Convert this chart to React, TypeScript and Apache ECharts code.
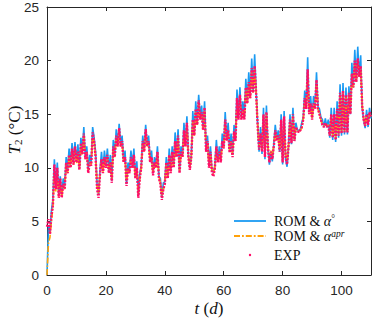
import React, { useEffect, useRef } from "react";
import * as echarts from "echarts";

// time grid (days), half-day sampling
const TIME_STEP = 0.5;
const N_POINTS = 221;
const timeDays: number[] = Array.from({ length: N_POINTS }, (_, i) => i * TIME_STEP);

const xTicks = [0, 20, 40, 60, 80, 100];
const yTicks = [0, 5, 10, 15, 20, 25];

// EXP measurements T2 (°C)
const expValues = [
  4.5, 5.2, 3.8, 5.5, 6.5, 10.3, 8.0, 10.0, 7.2, 9.0,
  7.2, 8.5, 8.0, 10.5, 9.5, 11.2, 10.0, 11.8, 10.3, 12.0,
  10.5, 11.5, 9.8, 12.3, 11.3, 13.2, 10.8, 11.5, 9.5, 10.5,
  10.2, 13.3, 12.5, 11.0, 8.0, 7.2, 9.5, 10.8, 9.5, 11.0,
  10.0, 11.2, 9.5, 10.5, 8.6, 12.0, 11.0, 13.0, 12.0, 13.7,
  12.0, 12.5, 10.5, 11.0, 8.3, 10.0, 9.5, 11.0, 10.0, 11.2,
  9.0, 10.0, 7.2, 9.0, 10.0, 12.5, 11.5, 13.6, 12.0, 12.5,
  10.5, 11.0, 9.3, 10.5, 10.0, 11.5, 9.0, 8.5, 7.0, 8.0,
  8.5, 10.5, 9.0, 11.2, 9.5, 11.5, 10.0, 12.5, 11.0, 13.0,
  9.5, 11.5, 11.0, 13.5, 12.0, 14.2, 11.0, 9.8, 11.0, 14.5,
  13.0, 15.5, 14.0, 16.3, 14.5, 15.2, 13.5, 15.6, 11.5, 12.5,
  10.0, 11.5, 9.5, 9.2, 10.0, 12.0, 10.5, 11.5, 10.5, 12.5,
  11.8, 14.5, 12.5, 13.5, 11.4, 12.5, 11.0, 13.4, 12.5, 16.5,
  14.5, 16.8, 14.5, 15.5, 14.5, 17.5, 16.0, 18.0, 16.5, 19.3,
  17.0, 19.5, 17.0, 14.0, 11.7, 13.2, 11.5, 15.0, 11.0, 15.2,
  12.0, 10.5, 11.5, 10.8, 12.0, 13.5, 12.5, 13.0, 11.5, 14.5,
  10.5, 14.8, 11.0, 10.3, 12.0, 14.5, 12.3, 15.0, 12.5, 13.8,
  13.5, 13.3, 13.5, 13.8, 14.5, 16.5, 15.5, 19.2, 15.0, 16.0,
  14.5, 16.0, 15.5, 18.2, 15.5, 15.0, 14.5, 14.0, 13.8, 14.2,
  13.8, 14.0, 13.0, 15.0, 12.8, 15.0, 12.6, 15.5, 13.0, 17.0,
  13.2, 17.2, 13.3, 16.8, 13.3, 17.0, 15.0, 18.8, 17.5, 20.0,
  18.0, 20.2, 18.5, 19.5, 15.8, 14.5, 13.9, 15.0, 14.0, 15.2,
  14.8,
];

// ROM & alpha° (blue)
const romValues = [
  0, 4.5, 4.0, 6.0, 7.0, 10.8, 8.2, 10.5, 7.5, 9.2,
  7.5, 9.0, 8.3, 11.0, 9.8, 11.8, 10.3, 12.3, 10.5, 12.4,
  10.6, 12.2, 10.0, 12.8, 11.5, 13.8, 11.0, 12.0, 9.8, 11.2,
  10.5, 13.8, 12.8, 11.5, 8.5, 7.5, 9.8, 11.5, 9.8, 11.6,
  10.2, 11.8, 9.7, 11.2, 8.8, 12.6, 11.2, 13.6, 12.2, 14.1,
  12.2, 13.0, 10.7, 11.6, 8.5, 10.5, 9.7, 11.6, 10.2, 11.8,
  9.2, 10.6, 7.4, 9.5, 10.2, 13.0, 11.7, 14.0, 12.2, 13.0,
  10.7, 11.6, 9.5, 11.0, 10.2, 12.0, 9.2, 9.0, 7.2, 8.6,
  8.7, 11.0, 9.2, 11.8, 9.7, 12.0, 10.2, 13.3, 11.2, 13.6,
  9.7, 12.0, 11.2, 14.2, 12.2, 14.8, 11.2, 10.0, 11.2, 15.3,
  13.2, 16.2, 14.2, 16.8, 14.7, 15.8, 13.7, 16.2, 11.7, 13.0,
  10.2, 12.0, 9.7, 9.6, 10.2, 12.6, 10.7, 12.0, 10.7, 13.2,
  12.0, 15.2, 12.7, 14.2, 11.6, 13.2, 11.2, 14.0, 12.7, 17.3,
  14.7, 17.5, 14.7, 16.2, 14.7, 18.3, 16.2, 18.9, 16.7, 20.2,
  17.2, 20.6, 17.2, 14.2, 11.5, 13.8, 11.3, 15.6, 10.8, 15.8,
  11.8, 10.3, 11.5, 10.6, 12.2, 14.0, 12.7, 13.5, 11.5, 15.0,
  10.3, 15.3, 10.8, 10.1, 12.0, 15.0, 12.2, 15.6, 12.5, 14.2,
  13.5, 13.5, 13.6, 14.2, 14.7, 17.2, 15.7, 20.3, 15.2, 16.7,
  14.7, 16.7, 15.7, 18.9, 15.7, 15.5, 14.7, 14.5, 13.8, 14.6,
  13.8, 14.5, 12.8, 15.6, 12.6, 15.6, 12.4, 16.2, 12.8, 17.8,
  13.0, 17.9, 13.1, 17.5, 13.1, 17.6, 15.0, 19.8, 17.5, 21.0,
  18.0, 21.3, 18.5, 20.5, 15.6, 14.5, 13.7, 15.4, 13.8, 15.6,
  14.6,
];

// ROM & alpha^apr (orange)
const romAprValues = [
  0, 3.0, 3.5, 5.0, 6.3, 9.5, 7.8, 9.6, 7.3, 8.7,
  7.3, 8.4, 8.0, 10.3, 9.5, 11.0, 10.0, 11.5, 10.3, 11.7,
  10.4, 11.3, 9.9, 12.0, 11.2, 13.0, 10.9, 11.4, 9.7, 10.5,
  10.3, 13.0, 12.4, 11.0, 8.3, 7.6, 9.5, 10.7, 9.6, 10.8,
  10.1, 11.0, 9.6, 10.4, 8.9, 11.8, 11.0, 12.8, 12.0, 13.4,
  12.0, 12.3, 10.6, 10.9, 8.6, 9.9, 9.6, 10.8, 10.0, 11.0,
  9.1, 9.9, 7.5, 9.0, 10.0, 12.3, 11.5, 13.3, 12.0, 12.3,
  10.6, 10.9, 9.5, 10.4, 10.0, 11.3, 9.2, 8.6, 7.4, 8.0,
  8.6, 10.3, 9.1, 11.0, 9.6, 11.3, 10.1, 12.3, 11.0, 12.8,
  9.7, 11.3, 11.0, 13.3, 12.0, 14.0, 11.2, 10.0, 11.0, 14.3,
  13.0, 15.2, 14.0, 16.0, 14.5, 15.0, 13.6, 15.3, 11.8, 12.4,
  10.2, 11.3, 9.7, 9.4, 10.1, 11.8, 10.6, 11.3, 10.6, 12.3,
  11.8, 14.2, 12.6, 13.3, 11.6, 12.4, 11.2, 13.2, 12.6, 16.2,
  14.6, 16.5, 14.6, 15.3, 14.6, 17.2, 16.0, 17.8, 16.5, 19.0,
  17.0, 19.2, 17.0, 14.2, 11.9, 13.1, 11.7, 14.8, 11.2, 15.0,
  12.0, 10.8, 11.6, 11.0, 12.1, 13.3, 12.6, 12.9, 11.7, 14.3,
  10.8, 14.6, 11.2, 10.6, 12.1, 14.3, 12.4, 14.8, 12.6, 13.7,
  13.5, 13.3, 13.5, 13.7, 14.5, 16.2, 15.5, 18.8, 15.1, 15.9,
  14.6, 15.9, 15.5, 18.0, 15.5, 15.0, 14.5, 14.0, 13.9, 14.1,
  13.9, 14.0, 13.1, 14.8, 12.9, 14.8, 12.7, 15.3, 13.1, 16.8,
  13.3, 17.0, 13.4, 16.6, 13.4, 16.8, 15.1, 18.5, 17.5, 19.7,
  18.0, 20.0, 18.5, 19.3, 15.9, 14.6, 14.0, 14.9, 14.1, 15.0,
  14.8,
];

const BLUE = "#1a9af2";
const ORANGE = "#ffa10a";
const PINK = "#ff0f68";
const AXIS = "#262626";
const SANS = "'Liberation Sans', Arial, sans-serif";
const SERIF = "'Liberation Serif', 'Times New Roman', serif";

const ICON_SOLID = "path://M0,0M32,14M0,6.1L32,6.1L32,7.9L0,7.9z";
const ICON_DASHDOT =
  "path://M0,0M32,14M0,6L6,6L6,8L0,8zM8,6L9.8,6L9.8,8L8,8zM11.8,6L17.8,6L17.8,8L11.8,8zM19.8,6L21.6,6L21.6,8L19.8,8zM23.6,6L29.6,6L29.6,8L23.6,8zM31.6,6L32,6L32,8L31.6,8z";
const ICON_DOT = "path://M0,0M32,14M14.8,7a1.2,1.2 0 1,0 2.4,0a1.2,1.2 0 1,0 -2.4,0z";

const pairs = (vals: number[]) => timeDays.map((t, i) => [t, vals[i]]);

export default function App() {
  const ref = useRef<HTMLDivElement>(null);
  useEffect(() => {
    if (!ref.current) return;
    const chart = echarts.init(ref.current, null, { renderer: "svg" });
    const legendRich = {
      r: { fontFamily: SERIF, fontSize: 14, color: "#111", lineHeight: 14 },
      i: { fontFamily: SERIF, fontSize: 14, fontStyle: "italic", color: "#111", lineHeight: 14 },
      sup: { fontFamily: SERIF, fontSize: 9.5, color: "#111", verticalAlign: "top", lineHeight: 9 },
      supi: { fontFamily: SERIF, fontSize: 9.5, fontStyle: "italic", color: "#111", verticalAlign: "top", lineHeight: 9 },
    };
    const legendFor = (name: string, icon: string, color: string, top: number) => ({
      orient: "vertical",
      left: 229,
      top,
      itemWidth: 32,
      itemHeight: 14,
      selectedMode: false,
      textStyle: { fontFamily: SERIF, fontSize: 14, color: "#111", padding: [0, 0, 0, 3], rich: legendRich },
      formatter: (n: string) => {
        if (n === "ROM1") return "{r|ROM & }{i|α}{sup|°}";
        if (n === "ROM2") return "{r|ROM & }{i|α}{supi|apr}";
        return "{r|EXP}";
      },
      data: [{ name, icon, itemStyle: { color, borderWidth: 0 }, lineStyle: { width: 0 } }],
    });
    const commonX = {
      type: "value" as const,
      min: 0,
      max: 110,
      interval: 20,
      splitLine: { show: false },
      axisLine: { show: true, onZero: false, lineStyle: { color: AXIS, width: 1 } },
      axisTick: { show: true, inside: true, length: 4, lineStyle: { color: AXIS } },
    };
    const commonY = {
      type: "value" as const,
      min: 0,
      max: 25,
      interval: 5,
      splitLine: { show: false },
      axisLine: { show: true, onZero: false, lineStyle: { color: AXIS, width: 1 } },
      axisTick: { show: true, inside: true, length: 4, lineStyle: { color: AXIS } },
    };
    chart.setOption({
      animation: false,
      backgroundColor: "#ffffff",
      grid: { left: 47, right: 3, top: 7, bottom: 45, containLabel: false, outerBoundsMode: "none" },
      xAxis: [
        {
          ...commonX,
          position: "bottom",
          axisLabel: {
            color: AXIS,
            fontFamily: SANS,
            fontSize: 13.5,
            margin: 8,
            formatter: (v: number) => (xTicks.includes(v) ? String(v) : ""),
          },
          name: "{i|t} ({i|d})",
          nameLocation: "middle",
          nameGap: 25,
          nameMoveOverlap: false,
          nameTextStyle: {
            rich: {
              i: { fontFamily: SERIF, fontStyle: "italic", fontSize: 17, color: "#111" },
            },
            fontFamily: SERIF,
            fontSize: 17,
            color: "#111",
          },
        },
        { ...commonX, position: "top", axisLabel: { show: false } },
      ],
      yAxis: [
        {
          ...commonY,
          position: "left",
          axisLabel: {
            color: AXIS,
            fontFamily: SANS,
            fontSize: 13.5,
            margin: 8,
            formatter: (v: number) => (yTicks.includes(v) ? String(v) : ""),
          },
          name: "{i|T}{sub|2} (°C)",
          nameLocation: "middle",
          nameGap: 24,
          nameRotate: 90,
          nameMoveOverlap: false,
          nameTextStyle: {
            fontFamily: SERIF,
            fontSize: 17,
            color: "#111",
            padding: [0, 0, 0, 22],
            rich: {
              i: { fontFamily: SERIF, fontStyle: "italic", fontSize: 17, color: "#111" },
              sub: { fontFamily: SERIF, fontSize: 11, color: "#111", verticalAlign: "bottom" },
            },
          },
        },
        { ...commonY, position: "right", axisLabel: { show: false } },
      ],
      legend: [
        legendFor("ROM1", ICON_SOLID, BLUE, 209),
        legendFor("ROM2", ICON_DASHDOT, ORANGE, 224),
        legendFor("EXP", ICON_DOT, PINK, 243),
      ],
      series: [
        {
          name: "ROM1",
          type: "line",
          data: pairs(romValues),
          symbol: "none",
          showSymbol: false,
          lineStyle: { color: BLUE, width: 1.6 },
          itemStyle: { color: BLUE },
          z: 2,
        },
        {
          name: "ROM2",
          type: "line",
          data: pairs(romAprValues),
          symbol: "none",
          showSymbol: false,
          lineStyle: { color: ORANGE, width: 1.6, type: [6, 2, 1.5, 2] },
          itemStyle: { color: ORANGE },
          z: 3,
        },
        {
          name: "EXP",
          type: "line",
          data: pairs(expValues),
          symbol: "none",
          showSymbol: false,
          lineStyle: { color: PINK, width: 2.4, type: [2, 1.3] },
          itemStyle: { color: PINK },
          z: 4,
        },
      ],
    });
    return () => chart.dispose();
  }, []);
  return <div ref={ref} style={{ width: 374, height: 320, position: "absolute", left: 0, top: 0 }} />;
}
